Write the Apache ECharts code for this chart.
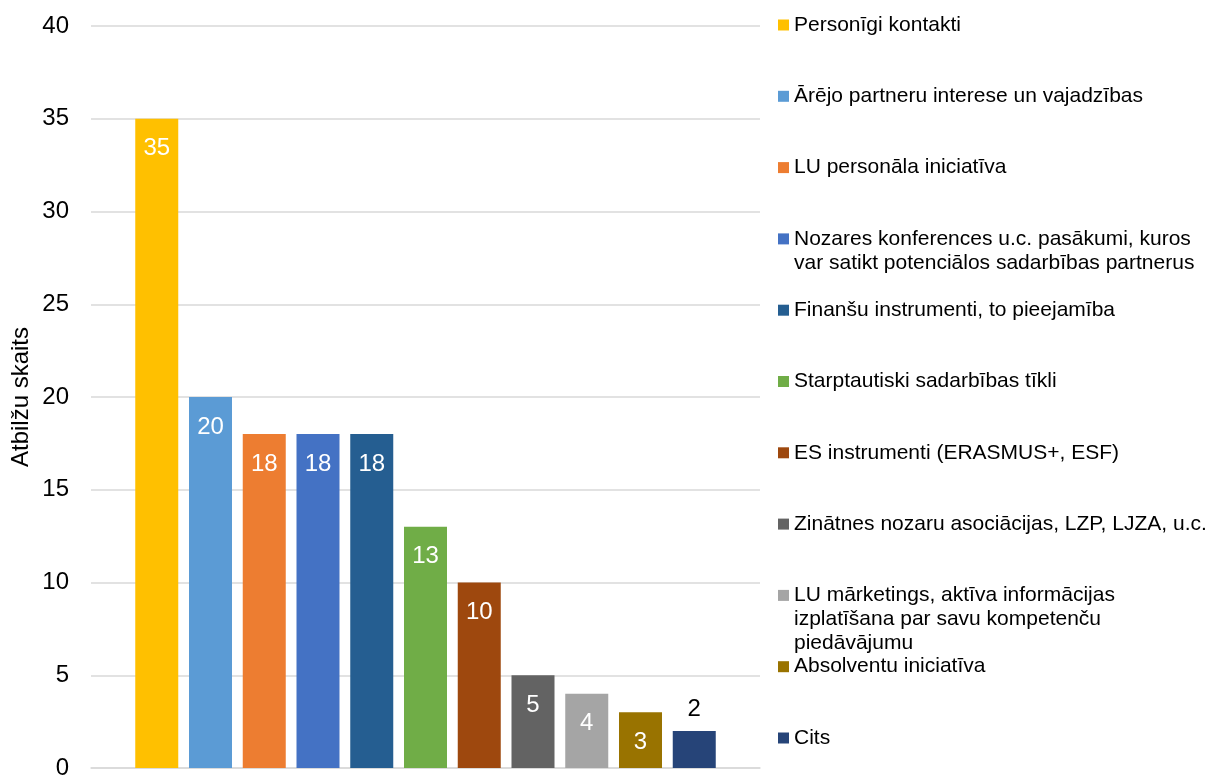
<!DOCTYPE html>
<html>
<head>
<meta charset="utf-8">
<script src="https://cdn.jsdelivr.net/npm/echarts@6/dist/echarts.min.js"></script>
<style>
html,body{margin:0;padding:0;background:#fff;}
#chart{width:1216px;height:776px;}
</style>
</head>
<body>
<div id="chart"></div>
<script>
var seriesNames = [
  'Personīgi kontakti',
  'Ārējo partneru interese un vajadzības',
  'LU personāla iniciatīva',
  'Nozares konferences u.c. pasākumi, kuros\nvar satikt potenciālos sadarbības partnerus',
  'Finanšu instrumenti, to pieejamība',
  'Starptautiski sadarbības tīkli',
  'ES instrumenti (ERASMUS+, ESF)',
  'Zinātnes nozaru asociācijas, LZP, LJZA, u.c.',
  'LU mārketings, aktīva informācijas\nizplatīšana par savu kompetenču\npiedāvājumu',
  'Absolventu iniciatīva',
  'Cits'
];
var values = [35, 20, 18, 18, 18, 13, 10, 5, 4, 3, 2];
var yTicks = [0, 5, 10, 15, 20, 25, 30, 35, 40];
var categories = [''];
var colors = ['#FFC000','#5B9BD5','#ED7D31','#4472C4','#255E91','#70AD47','#9E480E','#636363','#A5A5A5','#997300','#264478'];

var FONT = '"Liberation Sans", Arial, sans-serif';
var LH = 24;

var series = seriesNames.map(function (name, i) {
  var outside = i === seriesNames.length - 1;
  return {
    name: name,
    type: 'bar',
    data: [values[i]],
    barWidth: 43,
    barGap: '25%',
    itemStyle: { color: colors[i] },
    label: {
      show: true,
      position: outside ? 'top' : 'insideTop',
      distance: outside ? 10 : 18,
      color: outside ? '#000' : '#fff',
      fontFamily: FONT,
      fontSize: 24
    }
  };
});

var legends = seriesNames.map(function (name, i) {
  var lines = name.split('\n').length;
  var center = 25 + 71.3 * i;
  var top = center - (2 * lines - 1) * LH / 2;
  var pad = '';
  for (var k = 1; k < lines; k++) pad += ' \n';
  return {
    data: [name],
    orient: 'vertical',
    left: 778,
    top: top,
    padding: 0,
    itemWidth: 11,
    itemHeight: 11,
    itemGap: 0,
    selectedMode: false,
    icon: 'rect',
    formatter: function (n) { return pad + n; },
    textStyle: {
      fontFamily: FONT,
      fontSize: 21,
      color: '#000',
      lineHeight: LH
    }
  };
});

var chart = echarts.init(document.getElementById('chart'), null, { renderer: 'canvas' });
chart.setOption({
  animation: false,
  backgroundColor: '#fff',
  grid: { left: 91, right: 456, top: 26, bottom: 8, containLabel: false, outerBoundsMode: 'none' },
  legend: legends,
  xAxis: {
    type: 'category',
    data: categories,
    axisLine: { show: true, lineStyle: { color: '#d9d9d9', width: 1.5 } },
    axisTick: { show: false },
    axisLabel: { show: false }
  },
  yAxis: {
    type: 'value',
    min: yTicks[0],
    max: yTicks[yTicks.length - 1],
    interval: yTicks[1] - yTicks[0],
    name: 'Atbilžu skaits',
    nameLocation: 'middle',
    nameGap: 58,
    nameMoveOverlap: false,
    nameTextStyle: { fontFamily: FONT, fontSize: 24, color: '#000' },
    axisLine: { show: false },
    axisTick: { show: false },
    splitLine: { lineStyle: { color: '#d9d9d9', width: 1.5 } },
    axisLabel: { fontFamily: FONT, fontSize: 24, color: '#000', margin: 22 }
  },
  series: series
});
</script>
</body>
</html>
